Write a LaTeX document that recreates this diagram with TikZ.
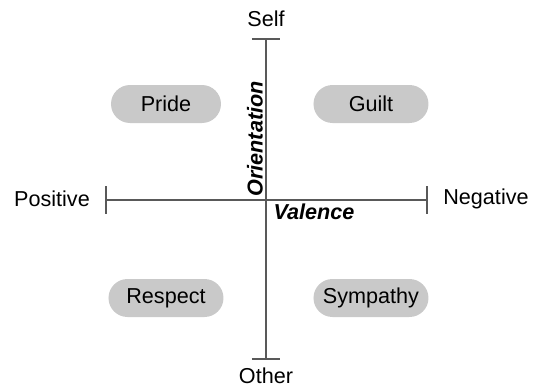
\documentclass[tikz,border=0pt]{standalone}
\usepackage{fontspec}
\setmainfont{Liberation Sans}
\usetikzlibrary{shapes.misc}
\begin{document}
\begin{tikzpicture}[x=0.5pt,y=-0.5pt,
  axis/.style={draw=black!65,line width=0.8pt},
  pill/.style={rounded rectangle,fill=black!21,minimum width=57.5pt,minimum height=19pt,inner sep=0pt,font=\fontsize{10.8}{12}\selectfont},
  lbl/.style={font=\fontsize{10.8}{12}\selectfont,inner sep=0pt},
  axlbl/.style={font=\fontsize{10.8}{12}\selectfont\bfseries\itshape,inner sep=0pt}]
\useasboundingbox (0,0) rectangle (538,386);
% axes
\coordinate (top) at (266,39);
\coordinate (bot) at (266,359);
\coordinate (lft) at (106,200);
\coordinate (rgt) at (427,200);
\draw[axis] (top) -- (bot);
\draw[axis] (lft) -- (rgt);
\draw[axis] ([xshift=-7pt]top) -- ([xshift=7pt]top);
\draw[axis] ([xshift=-7pt]bot) -- ([xshift=7pt]bot);
\draw[axis] ([yshift=7pt]lft) -- ([yshift=-7pt]lft);
\draw[axis] ([yshift=7pt]rgt) -- ([yshift=-7pt]rgt);
% axis end labels
\node[lbl] (self) at (266,19) {Self};
\node[lbl] (other) at (266,376) {Other};
\node[lbl] (pos) at (52,199) {Positive};
\node[lbl] (neg) at (486,199) {Negative};
% axis titles
\node[axlbl,rotate=90] (orient) at (255,139) {Orientation};
\node[axlbl] (val) at (314,212) {Valence};
% emotions
\node[pill,minimum width=55pt] (pride) at (166,104) {Pride};
\node[pill] (guilt) at (371,104) {Guilt};
\node[pill] (respect) at (166,298) {Respect};
\node[pill] (symp) at (371,298) {Sympathy};
\end{tikzpicture}
\end{document}
